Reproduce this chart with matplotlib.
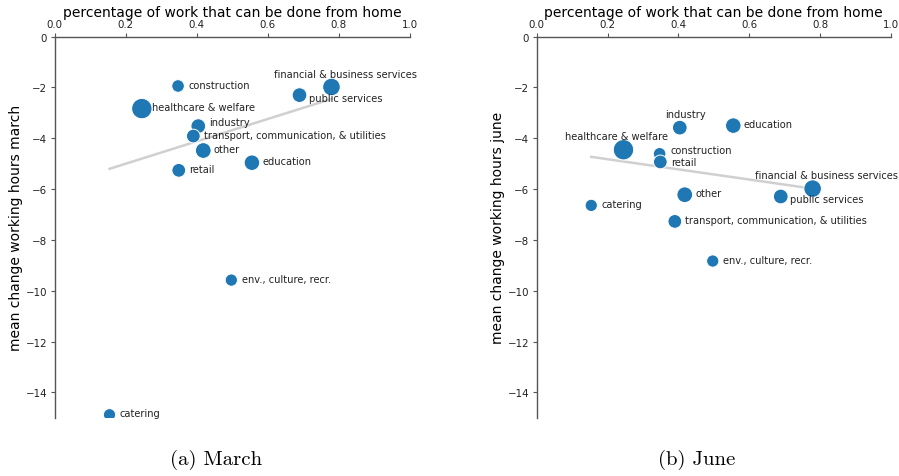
import matplotlib
matplotlib.use("Agg")
import matplotlib.pyplot as plt

sectors = ["construction", "healthcare & welfare", "financial & business services",
           "public services", "industry", "transport, communication, & utilities",
           "other", "education", "retail", "env., culture, recr.", "catering"]
wfh_share = [0.347, 0.245, 0.779, 0.689, 0.404, 0.390, 0.418, 0.555, 0.349, 0.497, 0.154]
change_march = [-1.94, -2.83, -1.98, -2.30, -3.52, -3.91, -4.48, -4.96, -5.26, -9.58, -14.88]
change_june = [-4.61, -4.45, -5.98, -6.29, -3.58, -7.27, -6.22, -3.50, -4.93, -8.83, -6.64]
marker_size = [82, 215, 160, 112, 112, 98, 128, 125, 98, 78, 78]

trend_x = [0.154, 0.779]
trend_march = [-5.2, -2.45]
trend_june = [-4.73, -5.98]

# label offsets (points) and alignment per panel
off_march = {"financial & business services": (10, 6, "center", "bottom"),
             "public services": (6.5, -2, "left", "center"),
             "industry": (7.5, 3, "left", "center")}
off_june = {"industry": (4, 6, "center", "bottom"),
            "healthcare & welfare": (-5, 6, "center", "bottom"),
            "financial & business services": (10, 6, "center", "bottom"),
            "public services": (6.5, -2, "left", "center"),
            "construction": (7.5, 3, "left", "center"),
            "retail": (7.5, 0, "left", "center")}

fig = plt.figure(figsize=(8.99, 4.77), dpi=100)
ax1 = fig.add_axes([0.061, 0.122, 0.395, 0.799])
ax2 = fig.add_axes([0.597, 0.122, 0.394, 0.799])

def draw(ax, ys, trend, offs, ylabel):
    ax.plot(trend_x, trend, color="#d0d0d0", lw=1.8, zorder=1)
    ax.scatter(wfh_share, ys, s=marker_size, color="#1f77b4", edgecolor="white",
               linewidth=0.7, zorder=2)
    for name, x, y in zip(sectors, wfh_share, ys):
        if name in offs:
            dx, dy, ha, va = offs[name]
        else:
            dx, dy, ha, va = (7.5, 1, "left", "center")
        ax.annotate(name, (x, y), xytext=(dx, dy), textcoords="offset points",
                    ha=ha, va=va, fontsize=7.1, color="#222222")
    ax.set_xlim(0, 1.0)
    ax.set_ylim(-15, 0)
    ax.set_xticks([0, 0.2, 0.4, 0.6, 0.8, 1.0])
    ax.set_yticks([0, -2, -4, -6, -8, -10, -12, -14])
    ax.xaxis.tick_top()
    ax.xaxis.set_label_position("top")
    ax.spines["right"].set_visible(False)
    ax.spines["bottom"].set_visible(False)
    for sp in ("left", "top"):
        ax.spines[sp].set_color("#555555")
        ax.spines[sp].set_linewidth(1.0)
    ax.tick_params(labelsize=7.4, colors="#222222", length=3, width=0.8, pad=2.5)
    ax.tick_params(axis="both", color="#555555")
    ax.set_xlabel("percentage of work that can be done from home", fontsize=10, labelpad=2)
    ax.set_ylabel(ylabel, fontsize=10, labelpad=2)

draw(ax1, change_march, trend_march, off_march, "mean change working hours march")
draw(ax2, change_june, trend_june, off_june, "mean change working hours june")

fig.text(0.240, 0.035, "(a) March", family="cmr10", fontsize=15, ha="center", va="center")
fig.text(0.775, 0.035, "(b) June", family="cmr10", fontsize=15, ha="center", va="center")

fig.savefig("out.png", dpi=100)
